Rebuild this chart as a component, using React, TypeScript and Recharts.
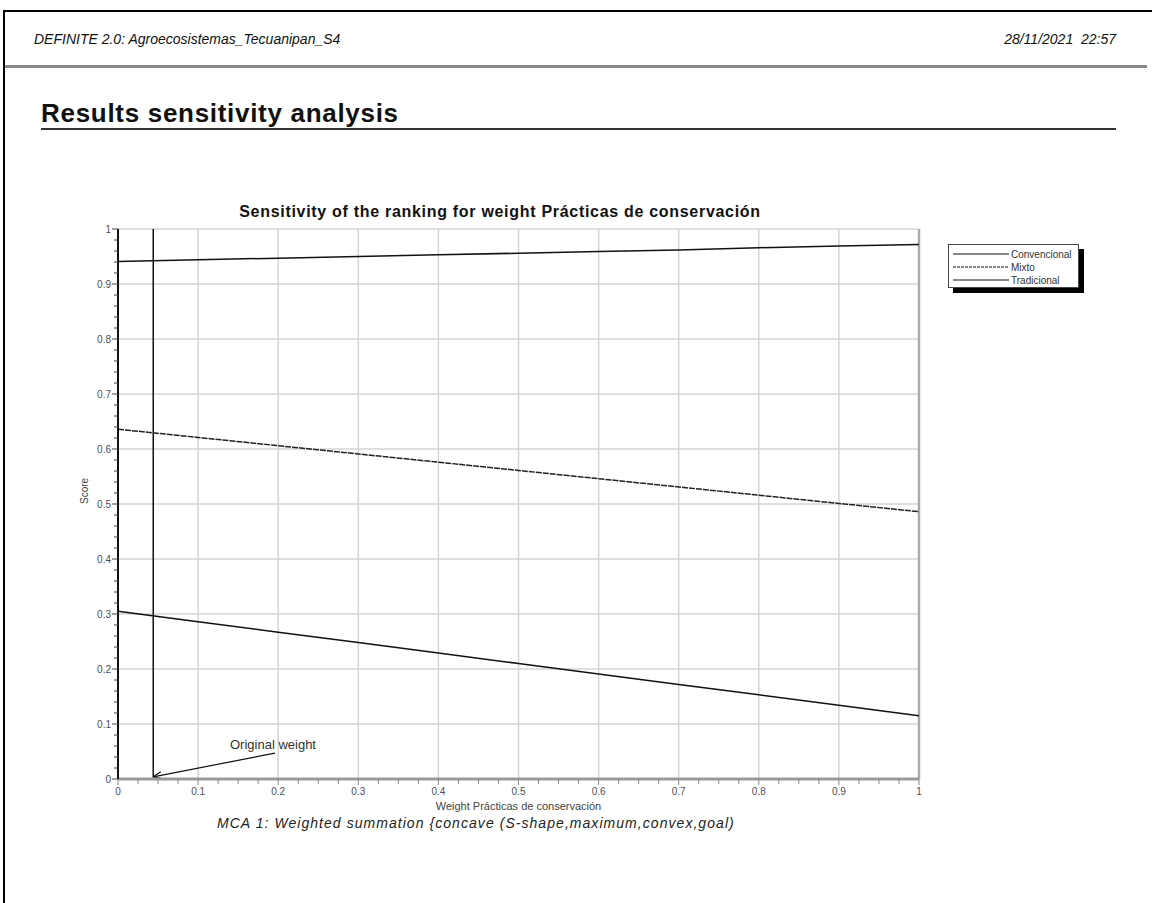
import React from 'react';
import { LineChart, Line, XAxis, YAxis, ReferenceLine } from 'recharts';

const weights = [0, 0.1, 0.2, 0.3, 0.4, 0.5, 0.6, 0.7, 0.8, 0.9, 1];
const convencional = [0.941, 0.944, 0.947, 0.950, 0.953, 0.956, 0.959, 0.962, 0.966, 0.969, 0.972];
const mixto = [0.636, 0.621, 0.606, 0.591, 0.576, 0.561, 0.546, 0.531, 0.516, 0.501, 0.486];
const tradicional = [0.305, 0.286, 0.267, 0.248, 0.229, 0.210, 0.191, 0.172, 0.153, 0.134, 0.115];
const seriesNames = ['Convencional', 'Mixto', 'Tradicional'];
const xTicks = [0, 0.1, 0.2, 0.3, 0.4, 0.5, 0.6, 0.7, 0.8, 0.9, 1];
const yTicks = [0, 0.1, 0.2, 0.3, 0.4, 0.5, 0.6, 0.7, 0.8, 0.9, 1];
const xMinorTicks = Array.from({ length: 41 }, (_, i) => +(i * 0.025).toFixed(3));
const yMinorTicks = Array.from({ length: 51 }, (_, i) => +(i * 0.02).toFixed(2));
const originalWeight = 0.044;
const arrowStart = { x: 0.196, y: 0.047 };
const arrowEnd = { x: 0.044, y: 0.004 };

const data = weights.map((w, i) => ({
  w,
  Convencional: convencional[i],
  Mixto: mixto[i],
  Tradicional: tradicional[i],
}));

const FONT = '"Liberation Sans", Arial, sans-serif';
const tickColor = '#4a4f60';

const fmt = (v: number) => String(+v.toFixed(2));
const isMajor = (v: number) => Math.abs(v * 10 - Math.round(v * 10)) < 1e-6;

const XTick = (p: any) => {
  const { x, y, payload } = p;
  const v = payload.value;
  const major = isMajor(v);
  return (
    <g>
      <line x1={x} y1={y} x2={x} y2={y + (major ? 6 : 5)} stroke="#888" strokeWidth={1} />
      {major && (
        <text x={x} y={y + 16} textAnchor="middle" fontSize={10} fill={tickColor} fontFamily={FONT}>{fmt(v)}</text>
      )}
    </g>
  );
};

const YTick = (p: any) => {
  const { x, y, payload } = p;
  const v = payload.value;
  const major = isMajor(v);
  return (
    <g>
      <line x1={x} y1={y} x2={x - (major ? 6 : 4)} y2={y} stroke="#444" strokeWidth={1} />
      {major && (
        <text x={x - 7} y={y + 3.5} textAnchor="end" fontSize={10} fill={tickColor} fontFamily={FONT}>{fmt(v)}</text>
      )}
    </g>
  );
};

const ArrowShape = (p: any) => {
  const { x1, y1, x2, y2 } = p;
  const ang = Math.atan2(y2 - y1, x2 - x1);
  const L = 9;
  const a1 = ang + Math.PI - 0.4;
  const a2 = ang + Math.PI + 0.4;
  return (
    <g>
      <line x1={x1} y1={y1} x2={x2} y2={y2} stroke="#111" strokeWidth={1.2} />
      <line x1={x2} y1={y2} x2={x2 + L * Math.cos(a1)} y2={y2 + L * Math.sin(a1)} stroke="#111" strokeWidth={1.2} />
      <line x1={x2} y1={y2} x2={x2 + L * Math.cos(a2)} y2={y2 + L * Math.sin(a2)} stroke="#111" strokeWidth={1.2} />
      <text x={x1 - 2} y={y1 - 4} textAnchor="middle" fontSize={13} fill="#333" fontFamily={FONT}>Original weight</text>
    </g>
  );
};

const legendDash = [undefined, '3 1', undefined];

export default function App() {
  return (
    <div style={{ position: 'absolute', left: 0, top: 0, width: 1152, height: 903, background: '#fff', fontFamily: FONT, overflow: 'hidden' }}>
      <div style={{ position: 'absolute', left: 3, top: 10, width: 1149, height: 2, background: '#000' }} />
      <div style={{ position: 'absolute', left: 3, top: 10, width: 2, height: 893, background: '#000' }} />
      <div style={{ position: 'absolute', left: 34, top: 31, fontSize: 14, fontStyle: 'italic', color: '#111' }}>DEFINITE 2.0: Agroecosistemas_Tecuanipan_S4</div>
      <div style={{ position: 'absolute', right: 36, top: 31, fontSize: 14, fontStyle: 'italic', color: '#111' }}>28/11/2021&nbsp;&nbsp;22:57</div>
      <div style={{ position: 'absolute', left: 5, top: 65, width: 1142, height: 3, background: '#888' }} />
      <div style={{ position: 'absolute', left: 41, top: 98, fontSize: 26, fontWeight: 'bold', letterSpacing: 0.7, color: '#111' }}>Results sensitivity analysis</div>
      <div style={{ position: 'absolute', left: 41, top: 128, width: 1075, height: 1.5, background: '#333' }} />
      <div style={{ position: 'absolute', left: 0, width: 1000, top: 203, textAlign: 'center', fontSize: 16, fontWeight: 'bold', letterSpacing: 0.7, color: '#111' }}>Sensitivity of the ranking for weight Prácticas de conservación</div>
      <div style={{ position: 'absolute', left: 0, top: 0 }}>
        <LineChart width={1152} height={903} data={data} margin={{ top: 229, right: 233, bottom: 94, left: 78 }}>
          {yTicks.map((v) => (
            <ReferenceLine key={'gy' + v} y={v} stroke="#d4d4d4" strokeWidth={1.5} />
          ))}
          {xTicks.map((v) => (
            <ReferenceLine key={'gx' + v} x={v} stroke={v === 1 ? '#aaa' : '#d4d4d4'} strokeWidth={v === 1 ? 2.5 : 1.5} />
          ))}
          <XAxis dataKey="w" type="number" domain={[0, 1]} ticks={xMinorTicks} height={30} interval={0}
            tickSize={0} tickMargin={0} tickLine={false} tick={<XTick />}
            axisLine={{ stroke: '#9a9a9a', strokeWidth: 3 }}
            label={{ value: 'Weight Prácticas de conservación', position: 'insideBottom', offset: -1, fontSize: 11, fill: '#444', fontFamily: FONT }} />
          <YAxis type="number" domain={[0, 1]} ticks={yMinorTicks} width={40} interval={0}
            tickSize={0} tickMargin={0} tickLine={false} tick={<YTick />}
            axisLine={{ stroke: '#111', strokeWidth: 2 }}
            label={{ value: 'Score', angle: -90, position: 'insideLeft', offset: 6, fontSize: 10, fill: '#444', fontFamily: FONT }} />
          <ReferenceLine x={originalWeight} stroke="#111" strokeWidth={1.5} />
          <ReferenceLine segment={[arrowStart, arrowEnd]} shape={ArrowShape} ifOverflow="visible" />
          <Line type="linear" dataKey="Convencional" stroke="#111" strokeWidth={1.5} dot={false} isAnimationActive={false} />
          <Line type="linear" dataKey="Mixto" stroke="#222" strokeWidth={1.5} strokeDasharray="6 1" dot={false} isAnimationActive={false} />
          <Line type="linear" dataKey="Tradicional" stroke="#111" strokeWidth={1.5} dot={false} isAnimationActive={false} />
        </LineChart>
      </div>
      <div style={{ position: 'absolute', left: 953, top: 249, width: 131, height: 44, background: '#000' }} />
      <div style={{ position: 'absolute', left: 948, top: 244, width: 129, height: 42, background: '#fff', border: '1px solid #444' }}>
        {seriesNames.map((n, i) => (
          <div key={n} style={{ display: 'flex', alignItems: 'center', height: 12, marginTop: i === 0 ? 3 : 1 }}>
            <svg width={56} height={6} style={{ marginLeft: 4 }}>
              <line x1={0} y1={3} x2={56} y2={3} stroke="#111" strokeWidth={1.2} strokeDasharray={legendDash[i]} />
            </svg>
            <span style={{ fontSize: 10, color: '#333', marginLeft: 2 }}>{n}</span>
          </div>
        ))}
      </div>
      <div style={{ position: 'absolute', left: 217, top: 815, fontSize: 14, letterSpacing: 1.05, fontStyle: 'italic', color: '#222' }}>MCA 1: Weighted summation {'{'}concave (S-shape,maximum,convex,goal)</div>
    </div>
  );
}
